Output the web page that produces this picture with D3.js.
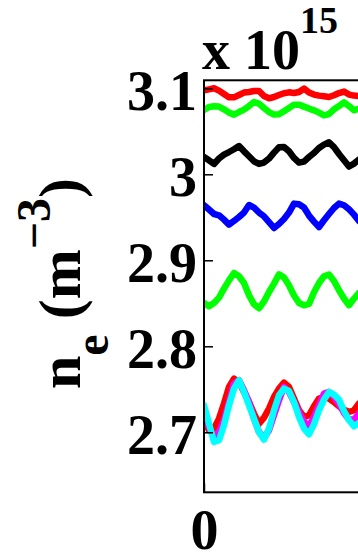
<!DOCTYPE html>
<html>
<head>
<meta charset="utf-8">
<script src="https://cdn.jsdelivr.net/npm/d3@7/dist/d3.min.js"></script>
<style>
  html, body { margin: 0; padding: 0; background: #fff; }
  svg { display: block; }
  text { font-family: "Liberation Serif", "Times New Roman", serif; font-weight: bold; fill: #000; }
</style>
</head>
<body>
<script>
// Time samples (ms) shared by every trace
const time = [0.00, 0.01, 0.02, 0.03, 0.04, 0.05, 0.06, 0.07, 0.08, 0.09,
              0.10, 0.11, 0.12, 0.13, 0.14, 0.15, 0.16, 0.17, 0.18, 0.19,
              0.20, 0.21, 0.22, 0.23, 0.24, 0.25, 0.26, 0.27, 0.28, 0.29,
              0.30, 0.31];

// Electron density traces, in units of 1e15 m^-3
const redTop = [3.0977, 3.0988, 3.1000, 3.0973, 3.0934, 3.0895, 3.0895, 3.0922, 3.0950, 3.0957,
                3.0969, 3.0969, 3.0910, 3.0884, 3.0899, 3.0922, 3.0942, 3.0953, 3.0945, 3.0957,
                3.0997, 3.0950, 3.0927, 3.0915, 3.0907, 3.0899, 3.0919, 3.0945, 3.0962, 3.0927,
                3.0915, 3.0910];
const greenTop = [3.0748, 3.0783, 3.0791, 3.0787, 3.0756, 3.0717, 3.0694, 3.0724, 3.0752, 3.0794,
                  3.0841, 3.0822, 3.0771, 3.0724, 3.0694, 3.0698, 3.0733, 3.0771, 3.0810, 3.0810,
                  3.0787, 3.0764, 3.0744, 3.0717, 3.0686, 3.0701, 3.0756, 3.0794, 3.0837, 3.0794,
                  3.0744, 3.0764];
const black = [3.0201, 3.0163, 3.0120, 3.0183, 3.0229, 3.0259, 3.0291, 3.0329, 3.0267, 3.0209,
               3.0151, 3.0120, 3.0136, 3.0183, 3.0252, 3.0314, 3.0317, 3.0267, 3.0190, 3.0136,
               3.0148, 3.0201, 3.0248, 3.0306, 3.0345, 3.0372, 3.0317, 3.0236, 3.0163, 3.0090,
               3.0124, 3.0171];
const blue = [2.9640, 2.9590, 2.9538, 2.9523, 2.9473, 2.9415, 2.9457, 2.9503, 2.9555, 2.9643,
              2.9613, 2.9555, 2.9512, 2.9445, 2.9376, 2.9422, 2.9480, 2.9555, 2.9659, 2.9651,
              2.9613, 2.9520, 2.9450, 2.9387, 2.9465, 2.9538, 2.9608, 2.9659, 2.9640, 2.9593,
              2.9531, 2.9457];
const greenLow = [2.8504, 2.8465, 2.8504, 2.8566, 2.8671, 2.8767, 2.8852, 2.8814, 2.8736, 2.8593,
                  2.8488, 2.8442, 2.8520, 2.8631, 2.8729, 2.8837, 2.8799, 2.8709, 2.8590, 2.8504,
                  2.8477, 2.8492, 2.8628, 2.8736, 2.8814, 2.8834, 2.8759, 2.8651, 2.8555, 2.8477,
                  2.8555, 2.8620];
const redLow = [2.7140, 2.7023, 2.7043, 2.7159, 2.7334, 2.7527, 2.7624, 2.7585, 2.7469, 2.7352,
                2.7217, 2.7101, 2.7171, 2.7276, 2.7410, 2.7508, 2.7578, 2.7527, 2.7392, 2.7256,
                2.7178, 2.7198, 2.7302, 2.7392, 2.7410, 2.7392, 2.7352, 2.7302, 2.7264, 2.7236,
                2.7256, 2.7334];
const magenta = [2.7198, 2.7062, 2.6938, 2.7003, 2.7140, 2.7352, 2.7566, 2.7605, 2.7488, 2.7352,
                 2.7159, 2.7003, 2.6938, 2.7023, 2.7198, 2.7372, 2.7527, 2.7469, 2.7352, 2.7236,
                 2.7120, 2.7070, 2.7178, 2.7314, 2.7450, 2.7469, 2.7410, 2.7326, 2.7224, 2.7148,
                 2.7148, 2.7217];
const cyan = [2.7314, 2.7101, 2.6887, 2.6907, 2.7081, 2.7314, 2.7508, 2.7605, 2.7469, 2.7314,
              2.7159, 2.7003, 2.6915, 2.7043, 2.7256, 2.7430, 2.7508, 2.7480, 2.7352, 2.7178,
              2.7043, 2.6977, 2.7093, 2.7256, 2.7380, 2.7469, 2.7438, 2.7380, 2.7248, 2.7140,
              2.7070, 2.7108];

const yTicks = [2.7, 2.8, 2.9, 3.0, 3.1];
const yTickLabels = ["2.7", "2.8", "2.9", "3", "3.1"];
const xTicks = [0];
const xTickLabels = ["0"];

const traces = [
  { values: redTop,   color: "#ff0000" },
  { values: greenTop, color: "#00ff00" },
  { values: black,    color: "#000000" },
  { values: blue,     color: "#0000ff" },
  { values: greenLow, color: "#00ff00" },
  { values: redLow,   color: "#ff0000" },
  { values: magenta,  color: "#ff00ff" },
  { values: cyan,     color: "#00ffff" }
];

const W = 358, H = 554;
const plotLeft = 204, plotTop = 80.3, plotBottom = 492.3, plotRight = 704;

const svg = d3.select("body").append("svg")
  .attr("width", W).attr("height", H);

const x = d3.scaleLinear().domain([0, 1]).range([plotLeft, plotRight]);
const y = d3.scaleLinear().domain([2.6302, 3.1093]).range([plotBottom, plotTop]);

svg.append("clipPath").attr("id", "plotArea")
  .append("rect")
  .attr("x", plotLeft).attr("y", plotTop)
  .attr("width", plotRight - plotLeft).attr("height", plotBottom - plotTop);

const line = d3.line()
  .x((d, i) => x(time[i]))
  .y(d => y(d));

svg.append("g").attr("clip-path", "url(#plotArea)")
  .selectAll("path")
  .data(traces)
  .join("path")
  .attr("d", d => line(d.values))
  .attr("fill", "none")
  .attr("stroke", d => d.color)
  .attr("stroke-width", 6.5)
  .attr("stroke-linejoin", "round")
  .attr("stroke-linecap", "round");

// Left axis with inward ticks
const yAxis = d3.axisLeft(y)
  .tickValues(yTicks)
  .tickFormat((d, i) => yTickLabels[i])
  .tickSize(-9)
  .tickPadding(7);
const gy = svg.append("g").attr("transform", `translate(${plotLeft},0)`).call(yAxis);
gy.select(".domain").remove();
gy.selectAll(".tick line").attr("stroke", "#000").attr("stroke-width", 1.5);
gy.selectAll(".tick text")
  .attr("dy", "21.5px")
  .style("font-size", "56px");

// Bottom axis
const xAxis = d3.axisBottom(x)
  .tickValues(xTicks)
  .tickFormat((d, i) => xTickLabels[i])
  .tickSize(-9);
const gx = svg.append("g").attr("transform", `translate(0,${plotBottom})`).call(xAxis);
gx.select(".domain").remove();
gx.selectAll(".tick line").attr("stroke", "#000").attr("stroke-width", 1.5);
gx.selectAll(".tick text")
  .attr("y", 0)
  .attr("dy", "56.5px")
  .style("font-size", "56px");

// Axes box
svg.append("rect")
  .attr("x", plotLeft).attr("y", plotTop)
  .attr("width", plotRight - plotLeft).attr("height", plotBottom - plotTop)
  .attr("fill", "none")
  .attr("stroke", "#000")
  .attr("stroke-width", 2);

// Exponent label
const expo = svg.append("text")
  .attr("x", plotLeft - 2).attr("y", 69)
  .style("font-size", "56px");
expo.append("tspan").text("x 10");
expo.append("tspan").attr("dy", -36).style("font-size", "38px").text("15");

// Y axis title: n_e (m^-3)
const yt = svg.append("text")
  .attr("transform", "translate(80,389) rotate(-90)")
  .style("font-size", "60px");
yt.append("tspan").text("n");
yt.append("tspan").attr("dy", 28).style("font-size", "48px").text("e");
yt.append("tspan").attr("dy", -28).text(" (m");
yt.append("tspan").attr("dy", -30).style("font-size", "48px").text("\u22123");
yt.append("tspan").attr("dy", 30).text(")");
</script>
</body>
</html>
